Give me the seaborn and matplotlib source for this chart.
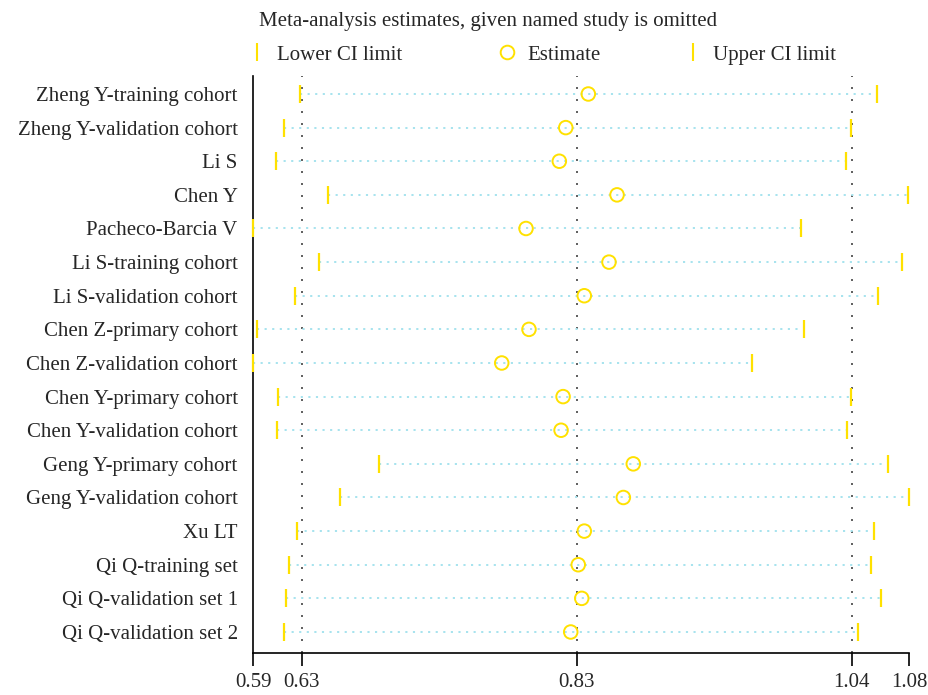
import numpy as np
import pandas as pd
import matplotlib
matplotlib.use("Agg")
import matplotlib.pyplot as plt
import seaborn as sns

studies = ["Zheng Y-training cohort", "Zheng Y-validation cohort", "Li S", "Chen Y",
           "Pacheco-Barcia V", "Li S-training cohort", "Li S-validation cohort",
           "Chen Z-primary cohort", "Chen Z-validation cohort", "Chen Y-primary cohort",
           "Chen Y-validation cohort", "Geng Y-primary cohort", "Geng Y-validation cohort",
           "Xu LT", "Qi Q-training set", "Qi Q-validation set 1", "Qi Q-validation set 2"]
lower = [0.6252, 0.6133, 0.6074, 0.6461, 0.5900, 0.6394, 0.6213, 0.5932, 0.5900,
         0.6084, 0.6077, 0.6836, 0.6550, 0.6226, 0.6170, 0.6144, 0.6131]
estimate = [0.8398, 0.8230, 0.8182, 0.8612, 0.7934, 0.8552, 0.8368, 0.7956, 0.7753,
            0.8210, 0.8195, 0.8733, 0.8659, 0.8368, 0.8323, 0.8349, 0.8267]
upper = [1.0547, 1.0355, 1.0318, 1.0780, 0.9983, 1.0735, 1.0556, 1.0007, 0.9620,
         1.0355, 1.0323, 1.0633, 1.0787, 1.0529, 1.0506, 1.0579, 1.0405]
# overall: lower CI, estimate, upper CI
overall = [0.6263, 0.8312, 1.0360]
tick_labels = ["0.59", "0.63", "0.83", "1.04", "1.08"]

df = pd.DataFrame({"study": studies, "lower": lower, "estimate": estimate, "upper": upper})
df["pos"] = np.arange(len(df))

YEL = "#FFE100"
CYAN = "#A6E3EE"
FS = 15

sns.set_style("white")
plt.rcParams["font.family"] = ["Liberation Serif", "DejaVu Serif"]

fig = plt.figure(figsize=(9.29, 6.95), dpi=100)
ax = fig.add_axes([253 / 929, 1 - 652.7 / 695, (909 - 253) / 929, (652.7 - 76) / 695])

xmin = min(lower)
xmax = max(upper)

# overall reference lines
for v in overall:
    ax.axvline(v, color="#444444", lw=1.2, ls=(0, (1.2, 6.0)), zorder=1)

# dotted CI lines
ax.hlines(df["pos"], df["lower"], df["upper"], color=CYAN, lw=1.4,
          linestyles=[(0, (1.1, 2.8))], zorder=2)

sns.scatterplot(data=df, x="lower", y="pos", marker="|", s=170, color=YEL,
                linewidth=1.6, ax=ax, clip_on=False, zorder=3, legend=False)
sns.scatterplot(data=df, x="upper", y="pos", marker="|", s=170, color=YEL,
                linewidth=1.6, ax=ax, clip_on=False, zorder=3, legend=False)
sns.scatterplot(data=df, x="estimate", y="pos", marker="o", s=95, facecolor="none",
                edgecolor=YEL, linewidth=1.4, ax=ax, clip_on=False, zorder=4, legend=False)

ax.set_xlim(xmin, xmax)
ax.set_ylim(16.616, -0.535)
ax.set_yticks(df["pos"], df["study"])
ax.set_xticks([xmin] + overall + [xmax], tick_labels)
ax.set_xlabel("")
ax.set_ylabel("")
for s in ["top", "right"]:
    ax.spines[s].set_visible(False)
for s in ["left", "bottom"]:
    ax.spines[s].set_color("black")
    ax.spines[s].set_linewidth(1.2)
ax.tick_params(axis="y", length=0, pad=11, labelsize=FS)
ax.tick_params(axis="x", length=9.5, width=1.2, direction="out", pad=5, labelsize=FS,
               bottom=True, color="black")

# title and legend
fig.text(259 / 929, 1 - 26 / 695, "Meta-analysis estimates, given named study is omitted",
         fontsize=FS, ha="left", va="baseline")
my = 1 - 52 / 695
ty = 1 - 60 / 695
fig.lines.append(plt.Line2D([257 / 929], [my], marker="|", ms=13, mew=1.5, color=YEL,
                            ls="none", transform=fig.transFigure))
fig.text(277 / 929, ty, "Lower CI limit", fontsize=FS, ha="left", va="baseline")
fig.lines.append(plt.Line2D([507 / 929], [my], marker="o", ms=9.8, mew=1.4, mfc="none",
                            mec=YEL, ls="none", transform=fig.transFigure))
fig.text(527 / 929, ty, "Estimate", fontsize=FS, ha="left", va="baseline")
fig.lines.append(plt.Line2D([692.5 / 929], [my], marker="|", ms=13, mew=1.5, color=YEL,
                            ls="none", transform=fig.transFigure))
fig.text(713 / 929, ty, "Upper CI limit", fontsize=FS, ha="left", va="baseline")

fig.savefig("out.png", dpi=100, facecolor="white")
